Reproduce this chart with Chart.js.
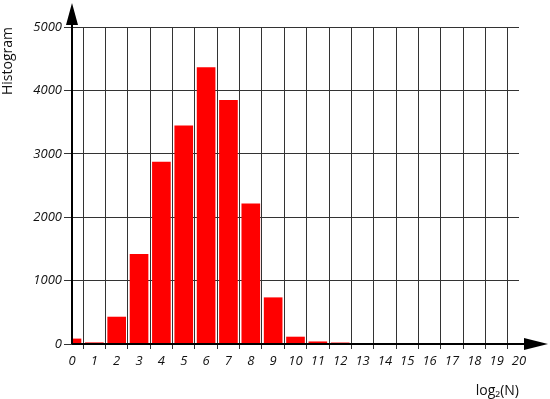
<!DOCTYPE html>
<html>
<head>
<meta charset="utf-8">
<script src="https://cdn.jsdelivr.net/npm/chart.js@4"></script>
<style>
html,body{margin:0;padding:0;background:#fff;}
#wrap{width:550px;height:399px;position:relative;}
</style>
</head>
<body>
<div id="wrap"><canvas id="c"></canvas></div>
<script>
const categories = [0,1,2,3,4,5,6,7,8,9,10,11,12,13,14,15,16,17,18,19,20];
const counts = [80,20,425,1415,2870,3440,4360,3845,2210,730,110,35,18,0,0,0,0,0,0,0,0];
const yTicks = [0,1000,2000,3000,4000,5000];
const yTitle = 'Histogram';
const xTitle = 'log\u2082(N)';

const points = categories.map((c,i)=>({x:c,y:counts[i]}));

const arrows = {
  id:'arrows',
  afterDraw(chart){
    const ctx = chart.ctx, xs = chart.scales.x, ys = chart.scales.y;
    const x0 = xs.getPixelForValue(0), y0 = ys.getPixelForValue(0);
    const yTop = ys.getPixelForValue(5000);
    const xEnd = xs.getPixelForValue(20);
    ctx.save();
    ctx.strokeStyle = '#000'; ctx.fillStyle = '#000'; ctx.lineWidth = 2;
    ctx.beginPath();
    ctx.moveTo(x0, y0); ctx.lineTo(x0, yTop - 4);
    ctx.moveTo(x0, y0); ctx.lineTo(xEnd + 6, y0);
    ctx.stroke();
    ctx.beginPath();
    ctx.moveTo(x0, yTop - 24); ctx.lineTo(x0 - 6, yTop - 2); ctx.lineTo(x0 + 6, yTop - 2); ctx.closePath();
    ctx.fill();
    ctx.beginPath();
    ctx.moveTo(xEnd + 29, y0); ctx.lineTo(xEnd + 5, y0 - 6); ctx.lineTo(xEnd + 5, y0 + 6); ctx.closePath();
    ctx.fill();
    ctx.restore();
  }
};

new Chart(document.getElementById('c'), {
  type:'bar',
  data:{datasets:[{data:points, backgroundColor:'#ff0000', borderWidth:0, barThickness:18, minBarLength:0}]},
  options:{
    responsive:true, maintainAspectRatio:false, animation:false,
    layout:{padding:{top:27,right:31,left:0,bottom:0}},
    plugins:{legend:{display:false},tooltip:{enabled:false}},
    scales:{
      x:{type:'linear', min:0, max:20, offset:false,
        ticks:{stepSize:1, autoSkip:false, color:'#111', padding:4, font:{family:'Open Sans', size:13, style:'italic'}},
        grid:{color:'#333', lineWidth:1, drawTicks:true, tickLength:5},
        border:{display:false},
        title:{display:true, text:xTitle, align:'end', color:'#111', padding:{top:8,bottom:0}, font:{family:'Open Sans', size:14}},
        afterFit(s){ s.height = 55; }
      },
      y:{min:0, max:5000,
        afterBuildTicks(s){ s.ticks = yTicks.map(v=>({value:v})); },
        ticks:{color:'#111', padding:2, callback:v=>String(v), font:{family:'Open Sans', size:13, style:'italic'}},
        grid:{color:'#333', lineWidth:1, drawTicks:true, tickLength:8},
        border:{display:false},
        title:{display:true, text:yTitle, align:'end', color:'#111', padding:{top:0,bottom:0}, font:{family:'Open Sans', size:14}},
        afterFit(s){ s.width = 72; }
      }
    }
  },
  plugins:[arrows]
});
</script>
</body>
</html>
